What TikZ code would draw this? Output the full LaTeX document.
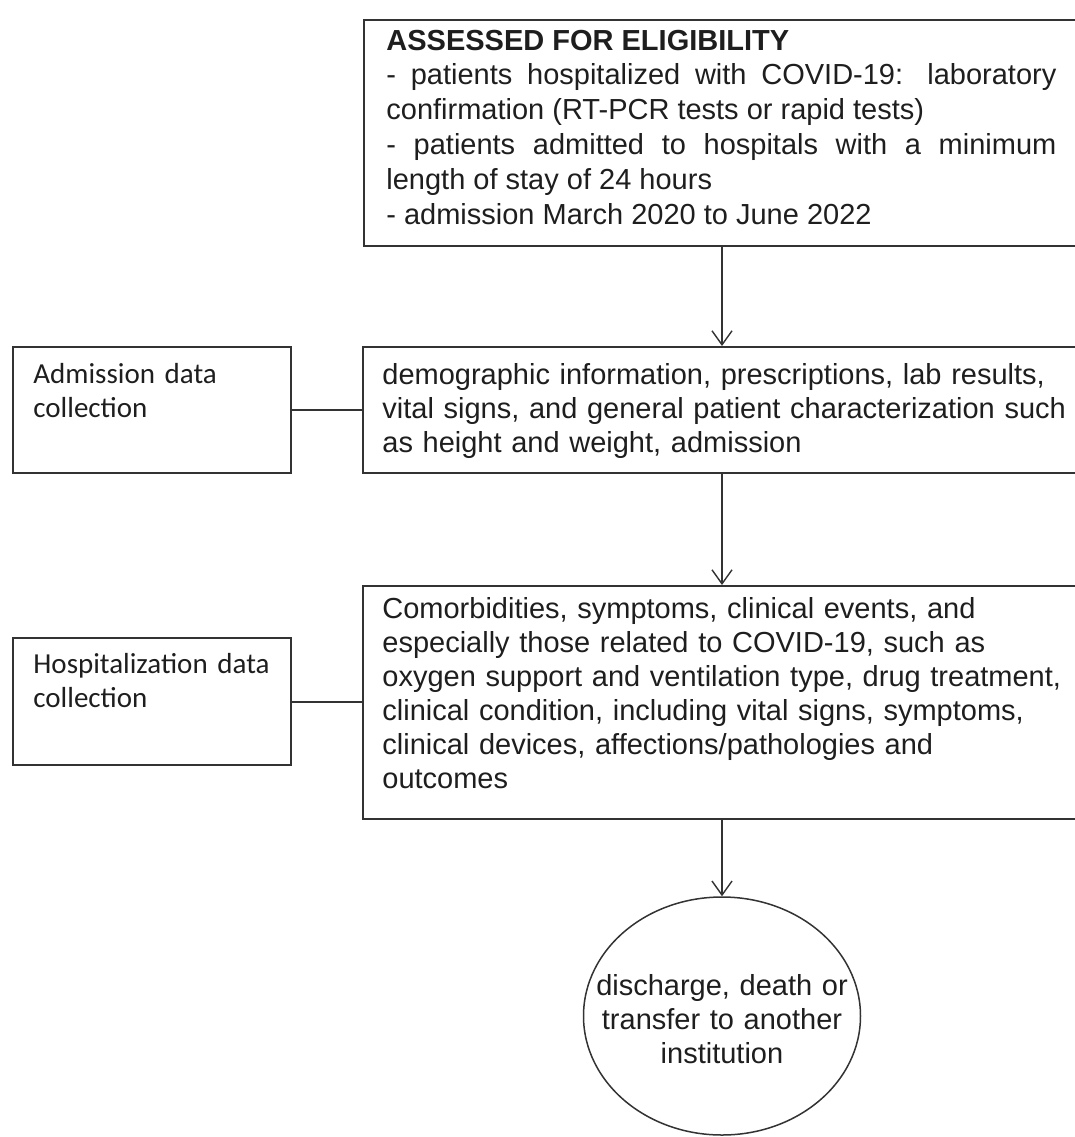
\documentclass[tikz,border=0pt]{standalone}
\usepackage{fontspec}
\setmainfont{Liberation Sans}
\newfontfamily\calibrifont{Carlito}
\usetikzlibrary{arrows.meta,shapes.geometric}
\definecolor{linegray}{HTML}{333333}
\definecolor{textgray}{HTML}{1E1E1E}
\hbadness=10000

\begin{document}
\begin{tikzpicture}[x=0.5pt,y=-0.5pt,
    box/.style={draw=linegray, line width=1pt, anchor=north west, inner sep=0pt},
    txt/.style={anchor=base west, inner sep=0pt, align=left, text width=350pt, text=textgray,
      font=\fontsize{14.5}{17}\selectfont},
    side/.style={txt, text width=125pt, font=\calibrifont\fontsize{14.5}{17}\selectfont},
    arr/.style={draw=linegray, line width=0.7pt, -{Straight Barb[length=7pt,width=10pt]}}]
    \useasboundingbox (0,0) rectangle (1075,1137);
    \clip (0,0) rectangle (1075,1137);
    % boxes
    \node[box, minimum width=370pt, minimum height=113pt] (elig) at (363,19) {};
    \node[box, minimum width=370pt, minimum height=63pt] (demo) at (362,346) {};
    \node[box, minimum width=139pt, minimum height=63pt] (adm) at (12,346) {};
    \node[box, minimum width=370pt, minimum height=116.5pt] (comorb) at (362,585) {};
    \node[box, minimum width=139pt, minimum height=63.5pt] (hosp) at (12,637) {};
    \node[draw=linegray, line width=0.75pt, ellipse, minimum width=138.5pt, minimum height=119pt,
      inner sep=0pt] (term) at (722,1016) {};
    % texts
    \node[txt, text width=335pt, align=justify, font=\fontsize{14.5}{17.4}\selectfont]
      (eligtext) at (386,50)
      {\textbf{ASSESSED FOR ELIGIBILITY}\\
       - patients hospitalized with COVID-19: laboratory\linebreak
       confirmation (RT-PCR tests or rapid tests)\\
       - patients admitted to hospitals with a minimum\linebreak
       length of stay of 24 hours\\
       - admission March 2020 to June 2022};
    \node[txt] (demotext) at (382,384)
      {demographic information, prescriptions, lab results,\\
       vital signs, and general patient characterization such\\
       as height and weight, admission};
    \node[txt] (comorbtext) at (382,618)
      {Comorbidities, symptoms, clinical events, and\\
       especially those related to COVID-19, such as\\
       oxygen support and ventilation type, drug treatment,\\
       clinical condition, including vital signs, symptoms,\\
       clinical devices, affections/pathologies and\\
       outcomes};
    \node[side] (admtext) at (33,383) {Admission data\\collection};
    \node[side] (hosptext) at (33,673) {Hospitalization data\\collection};
    \node[txt, anchor=base, text width=140pt, align=center] (termtext) at (722,995)
      {discharge, death or\\transfer to another\\institution};
    % connectors
    \draw[arr] (elig.south -| term) -- (demo.north -| term);
    \draw[arr] (demo.south -| term) -- (comorb.north -| term);
    \draw[arr] (comorb.south -| term) -- (term.north);
    \draw[linegray, line width=1pt] (adm.east) -- (demo.west |- adm.east);
    \draw[linegray, line width=1pt] (hosp.east) -- (comorb.west |- hosp.east);
\end{tikzpicture}
\end{document}
